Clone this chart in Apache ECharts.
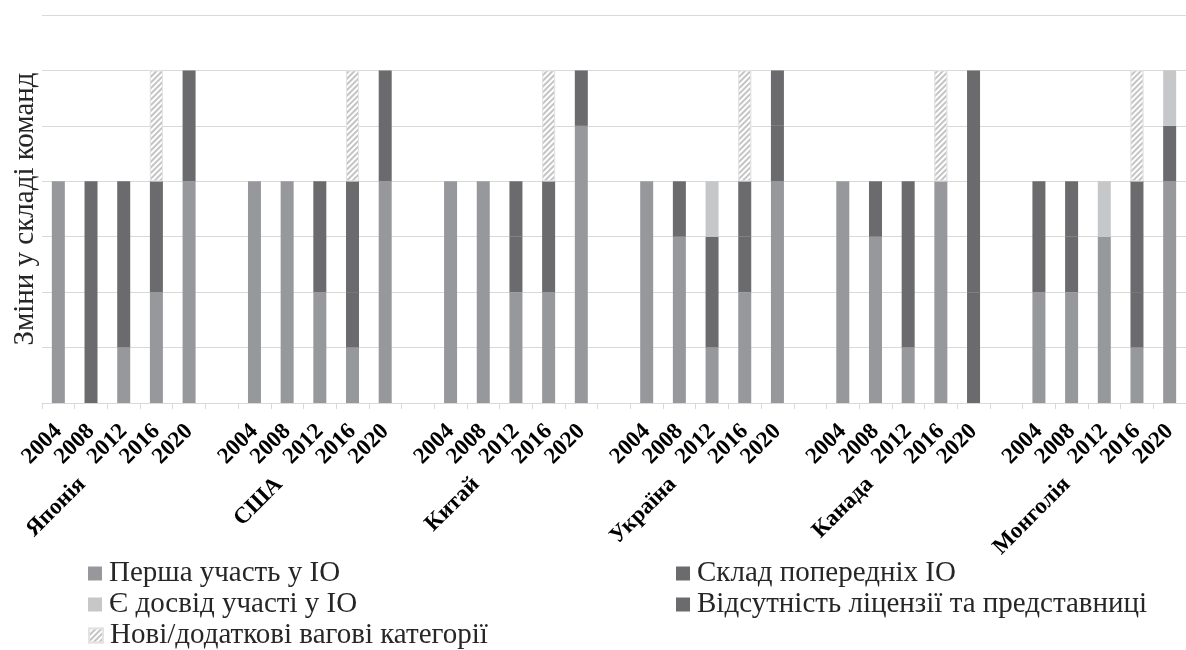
<!DOCTYPE html>
<html>
<head>
<meta charset="utf-8">
<script src="https://cdn.jsdelivr.net/npm/echarts@6/dist/echarts.min.js"></script>
<style>
  html, body { margin: 0; padding: 0; background: #fff; }
  #chart { width: 1186px; height: 650px; }
</style>
</head>
<body>
<div id="chart"></div>
<script>
// роки та країни (дворівнева вісь X)
const years = ['2004', '2008', '2012', '2016', '2020'];
const countries = ['Японія', 'США', 'Китай', 'Україна', 'Канада', 'Монголія'];

// значення по країнах, у кожному рядку 5 років
const firstTime = [[4, 0, 1, 2, 4], [4, 4, 2, 1, 4], [4, 4, 2, 2, 5], [4, 3, 1, 2, 4], [4, 3, 1, 4, 0], [2, 2, 3, 1, 4]];
const previousTeam = [[0, 4, 3, 2, 2], [0, 0, 2, 1, 2], [0, 0, 1, 2, 1], [0, 1, 2, 1, 1], [0, 1, 3, 0, 2], [2, 1, 0, 1, 1]];
const hasExperience = [[0, 0, 0, 0, 0], [0, 0, 0, 0, 0], [0, 0, 0, 0, 0], [0, 0, 1, 0, 0], [0, 0, 0, 0, 0], [0, 0, 1, 0, 1]];
const noLicense = [[0, 0, 0, 0, 0], [0, 0, 0, 2, 0], [0, 0, 1, 0, 0], [0, 0, 0, 1, 1], [0, 0, 0, 0, 4], [0, 1, 0, 2, 0]];
const newCategories = [[0, 0, 0, 2, 0], [0, 0, 0, 2, 0], [0, 0, 0, 2, 0], [0, 0, 0, 2, 0], [0, 0, 0, 2, 0], [0, 0, 0, 2, 0]];

const seriesNames = [
    'Перша участь у ІО',
    'Склад попередніх ІО',
    'Є досвід участі у ІО',
    'Відсутність ліцензії та представниці',
    'Нові/додаткові вагові категорії'
];

// розгортаємо групи в одну вісь з порожньою категорією між країнами
const yearAxis = [];
const countryAxis = [];
countries.forEach((c, i) => {
    years.forEach((y, j) => {
        yearAxis.push(y);
        countryAxis.push(j === 2 ? c : '');
    });
    if (i < countries.length - 1) {
        yearAxis.push('');
        countryAxis.push('');
    }
});

const flatten = groups => {
    const out = [];
    groups.forEach((g, i) => {
        g.forEach(v => out.push(v === 0 ? null : v));
        if (i < groups.length - 1) out.push(null);
    });
    return out;
};

const serif = 'Liberation Serif, Times New Roman, serif';
const medium = '#97989c';
const dark = '#6b6b6d';
const light = '#c6c7c9';

const chart = echarts.init(document.getElementById('chart'), null, { renderer: 'canvas' });

const barBase = {
    type: 'bar',
    stack: 'total',
    barWidth: 13,
    xAxisIndex: 0,
    yAxisIndex: 0
};

// окрема легенда на кожен пункт, щоб тримати дві колонки як в Excel
const legendItem = (name, left, top) => ({
    data: [name],
    left: left,
    top: top,
    padding: 0,
    itemWidth: 14,
    itemHeight: 14,
    icon: 'rect',
    selectedMode: false,
    textStyle: { fontFamily: serif, fontSize: 29, lineHeight: 29, color: '#262626', padding: [0, 0, 0, 2] }
});

const option = {
    backgroundColor: '#ffffff',
    animation: false,
    grid: [
        { left: 42, top: 15, width: 1155, height: 388 },
        { left: -6, top: 15, width: 1155, height: 388 } // для підписів країн
    ],
    legend: [
        legendItem(seriesNames[0], 88, 559),
        legendItem(seriesNames[2], 88, 590),
        legendItem(seriesNames[4], 88, 621),
        legendItem(seriesNames[1], 676, 559),
        legendItem(seriesNames[3], 676, 590)
    ],
    xAxis: [
        {
            type: 'category',
            gridIndex: 0,
            data: yearAxis,
            axisLine: { lineStyle: { color: '#d9d9d9', width: 1 } },
            axisTick: { show: true, interval: 0, length: 6, lineStyle: { color: '#d9d9d9' } },
            axisLabel: {
                interval: 0,
                rotate: 45,
                margin: 25,
                fontFamily: serif,
                fontWeight: 'bold',
                fontSize: 23,
                color: '#000'
            }
        },
        {
            type: 'category',
            gridIndex: 1,
            data: countryAxis,
            axisLine: { show: false },
            axisTick: { show: false },
            axisLabel: {
                interval: 0,
                rotate: 45,
                margin: 78,
                fontFamily: serif,
                fontWeight: 'bold',
                fontSize: 23,
                color: '#000'
            }
        }
    ],
    yAxis: [
        {
            type: 'value',
            gridIndex: 0,
            min: 0,
            max: 7,
            interval: 1,
            name: 'Зміни у складі команд',
            nameLocation: 'middle',
            nameGap: 2,
            nameTextStyle: { fontFamily: serif, fontSize: 29, color: '#262626' },
            axisLine: { show: false },
            axisTick: { show: false },
            axisLabel: { show: false },
            splitLine: { lineStyle: { color: '#d9d9d9', width: 1 } }
        },
        { type: 'value', gridIndex: 1, show: false, min: 0, max: 7 }
    ],
    series: [
        Object.assign({}, barBase, { name: seriesNames[0], data: flatten(firstTime), itemStyle: { color: medium } }),
        Object.assign({}, barBase, { name: seriesNames[1], data: flatten(previousTeam), itemStyle: { color: dark } }),
        Object.assign({}, barBase, { name: seriesNames[2], data: flatten(hasExperience), itemStyle: { color: light } }),
        Object.assign({}, barBase, { name: seriesNames[3], data: flatten(noLicense), itemStyle: { color: dark } }),
        Object.assign({}, barBase, {
            name: seriesNames[4],
            data: flatten(newCategories),
            itemStyle: {
                color: '#ffffff',
                borderColor: '#e3e3e3',
                borderWidth: 1,
                decal: {
                    symbol: 'rect',
                    symbolSize: 1,
                    dashArrayX: [1, 0],
                    dashArrayY: [2, 2],
                    rotation: -Math.PI / 4,
                    color: '#c4c4c4',
                    backgroundColor: '#ffffff'
                }
            }
        })
    ]
};

chart.setOption(option);
</script>
</body>
</html>
